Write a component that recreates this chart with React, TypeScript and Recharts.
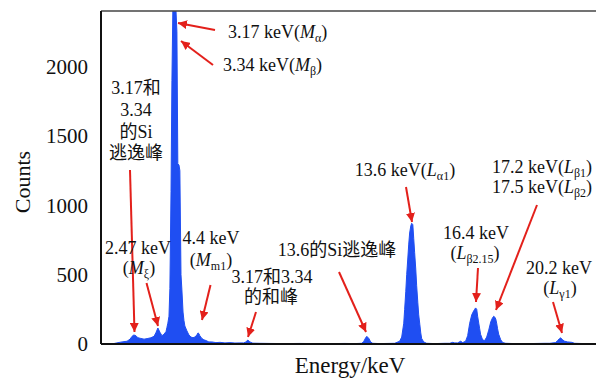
import { AreaChart, Area, XAxis, YAxis, ReferenceLine } from 'recharts';

// energy (keV) / counts
const ENERGY = [
  0.0, 0.41, 0.63, 0.86, 1.08, 1.21, 1.3, 1.38, 1.47, 1.56, 1.69, 1.83, 2.0, 2.13, 2.27, 2.35, 2.44, 2.53, 2.62, 2.71,
  2.8, 2.84, 2.88, 2.93, 2.97, 3.02, 3.06, 3.1, 3.15, 3.19, 3.24, 3.28, 3.32, 3.37, 3.41, 3.46, 3.5, 3.55, 3.59, 3.63,
  3.72, 3.81, 3.9, 3.99, 4.07, 4.16, 4.21, 4.25, 4.29, 4.38, 4.47, 4.56, 4.69, 4.82, 5.0, 5.18, 5.4, 5.62, 5.84, 6.06,
  6.23, 6.32, 6.41, 6.5, 6.63, 6.94, 7.38, 8.04, 8.7, 9.37, 10.03, 10.69, 11.13, 11.44, 11.53, 11.61, 11.66, 11.75, 11.83, 11.92,
  12.23, 12.89, 13.11, 13.2, 13.29, 13.33, 13.38, 13.42, 13.47, 13.51, 13.55, 13.6, 13.64, 13.69, 13.73, 13.77, 13.82, 13.86, 13.91, 13.95,
  14.0, 14.04, 14.08, 14.17, 14.3, 14.66, 15.1, 15.32, 15.45, 15.54, 15.67, 15.8, 15.89, 16.02, 16.11, 16.2, 16.29, 16.38, 16.42, 16.46,
  16.51, 16.55, 16.6, 16.64, 16.68, 16.77, 16.86, 16.95, 17.04, 17.13, 17.21, 17.26, 17.3, 17.35, 17.39, 17.43, 17.48, 17.57, 17.66, 17.79,
  18.18, 18.84, 19.51, 19.73, 19.99, 20.08, 20.17, 20.21, 20.3, 20.39, 20.52, 20.7, 20.83, 21.27, 21.76, 21.95,
];

const COUNTS = [
  0, 0, 8, 15, 20, 35, 55, 65, 60, 45, 40, 35, 40, 45, 55, 80, 115, 85, 60, 70,
  90, 120, 150, 200, 400, 1100, 1900, 2400, 2400, 2400, 2400, 2250, 1300, 1290, 1250, 500, 390, 230, 170, 130,
  95, 65, 50, 45, 50, 65, 80, 75, 60, 40, 30, 25, 15, 15, 10, 12, 8, 10, 7, 8,
  8, 15, 28, 15, 6, 5, 4, 3, 4, 3, 3, 4, 3, 5, 20, 45, 55, 40, 15, 5,
  3, 5, 20, 50, 150, 250, 380, 500, 620, 720, 800, 850, 870, 860, 760, 660, 540, 420, 300, 210,
  140, 80, 40, 15, 5, 3, 5, 5, 12, 8, 8, 20, 10, 20, 60, 150, 210, 240, 250, 260,
  250, 200, 150, 110, 70, 30, 25, 50, 100, 160, 190, 200, 195, 180, 150, 110, 70, 30, 10, 5,
  3, 3, 5, 5, 10, 25, 40, 45, 30, 20, 15, 12, 5, 3, 2, 2,
];

const Y_TICKS = [0, 500, 1000, 1500, 2000];

const data = ENERGY.map((e, i) => ({ e, counts: COUNTS[i] }));

const BLUE = '#1f4ef2';
const RED = '#e3201b';
const SERIF = "'Liberation Serif', 'Times New Roman', 'Noto Sans CJK SC', serif";

// label with italic symbol + subscript, e.g. 3.17 keV(Mα)
function Sym({ x, y, anchor = 'middle', pre = '', sym, sub, post = ')' }: any) {
  return (
    <text x={x} y={y} textAnchor={anchor} fontSize={18} fontFamily={SERIF} fill="#111">
      {pre}(
      <tspan fontStyle="italic">{sym}</tspan>
      <tspan fontSize={12} dy={4}>{sub}</tspan>
      <tspan dy={-4}>{post}</tspan>
    </text>
  );
}

function Txt({ x, y, children, anchor = 'middle' }: any) {
  return (
    <text x={x} y={y} textAnchor={anchor} fontSize={18} fontFamily={SERIF} fill="#111">
      {children}
    </text>
  );
}

const ARROWS = [
  [215, 30, 178, 23],
  [213, 65, 181, 41],
  [130, 170, 134.5, 332],
  [146.5, 283, 158, 326],
  [210.5, 285, 202, 320],
  [256, 312, 248, 337],
  [339, 272, 366, 332],
  [406, 187, 412, 222],
  [478, 268, 476, 302],
  [537, 205, 496, 310],
  [553, 302, 562, 333],
];

export default function App() {
  return (
    <div style={{ position: 'fixed', left: 0, top: 0, width: 596, height: 382, overflow: 'hidden', background: '#fff' }}>
      <AreaChart width={612} height={382} data={data} margin={{ top: 11, right: 12, left: 0, bottom: 0 }}>
        <XAxis
          dataKey="e"
          type="number"
          domain={[-0.07, 21.95]}
          allowDataOverflow
          tick={false}
          tickLine={false}
          height={38}
          axisLine={{ stroke: '#111', strokeWidth: 2 }}
        />
        <YAxis
          domain={[0, 2400]}
          ticks={Y_TICKS}
          allowDataOverflow
          width={101}
          tickLine={false}
          tickSize={0}
          tickMargin={13}
          axisLine={{ stroke: '#111', strokeWidth: 2 }}
          tick={{ fill: '#111', fontSize: 21, fontFamily: SERIF }}
        />
        <ReferenceLine y={2400} stroke="#444" strokeWidth={1.5} />
        <Area
          type="linear"
          dataKey="counts"
          stroke={BLUE}
          strokeWidth={1}
          fill={BLUE}
          fillOpacity={1}
          dot={false}
          activeDot={false}
          isAnimationActive={false}
        />
      </AreaChart>

      <svg width={596} height={382} style={{ position: 'absolute', left: 0, top: 0, pointerEvents: 'none' }}>
        <defs>
          <marker id="ah" viewBox="0 0 10 10" refX="10" refY="5" markerWidth="4.5" markerHeight="4.5" orient="auto">
            <path d="M0,0 L10,5 L0,10 z" fill={RED} />
          </marker>
        </defs>
        {ARROWS.map(([x1, y1, x2, y2], i) => (
          <line key={i} x1={x1} y1={y1} x2={x2} y2={y2} stroke={RED} strokeWidth={2} markerEnd="url(#ah)" />
        ))}

        <text x={22} y={182} transform="rotate(-90 22 182)" textAnchor="middle" dominantBaseline="central" fontSize={22} fontFamily={SERIF} fill="#111">
          Counts
        </text>
        <text x={350} y={373} textAnchor="middle" fontSize={23} fontFamily={SERIF} fill="#111">
          Energy/keV
        </text>

        <Sym x={228} y={38} anchor="start" pre="3.17 keV" sym="M" sub="α" />
        <Sym x={223} y={71} anchor="start" pre="3.34 keV" sym="M" sub="β" />

        <Txt x={136} y={94}>3.17和</Txt>
        <Txt x={136} y={116}>3.34</Txt>
        <Txt x={136} y={138}>的Si</Txt>
        <Txt x={136} y={159}>逃逸峰</Txt>

        <Txt x={138} y={254}>2.47 keV</Txt>
        <Sym x={139} y={274} sym="M" sub="ξ" />

        <Txt x={211} y={244}>4.4 keV</Txt>
        <Sym x={211} y={266} sym="M" sub="m1" />

        <Txt x={272} y={283}>3.17和3.34</Txt>
        <Txt x={271} y={303}>的和峰</Txt>

        <Txt x={337} y={256}>13.6的Si逃逸峰</Txt>

        <Sym x={405} y={176} pre="13.6 keV" sym="L" sub="α1" />

        <Txt x={476} y={239}>16.4 keV</Txt>
        <Sym x={475} y={259} sym="L" sub="β2.15" />

        <Sym x={542} y={173} pre="17.2 keV" sym="L" sub="β1" />
        <Sym x={542} y={193} pre="17.5 keV" sym="L" sub="β2" />

        <Txt x={559} y={274}>20.2 keV</Txt>
        <Sym x={560} y={294} sym="L" sub="γ1" />
      </svg>
    </div>
  );
}
